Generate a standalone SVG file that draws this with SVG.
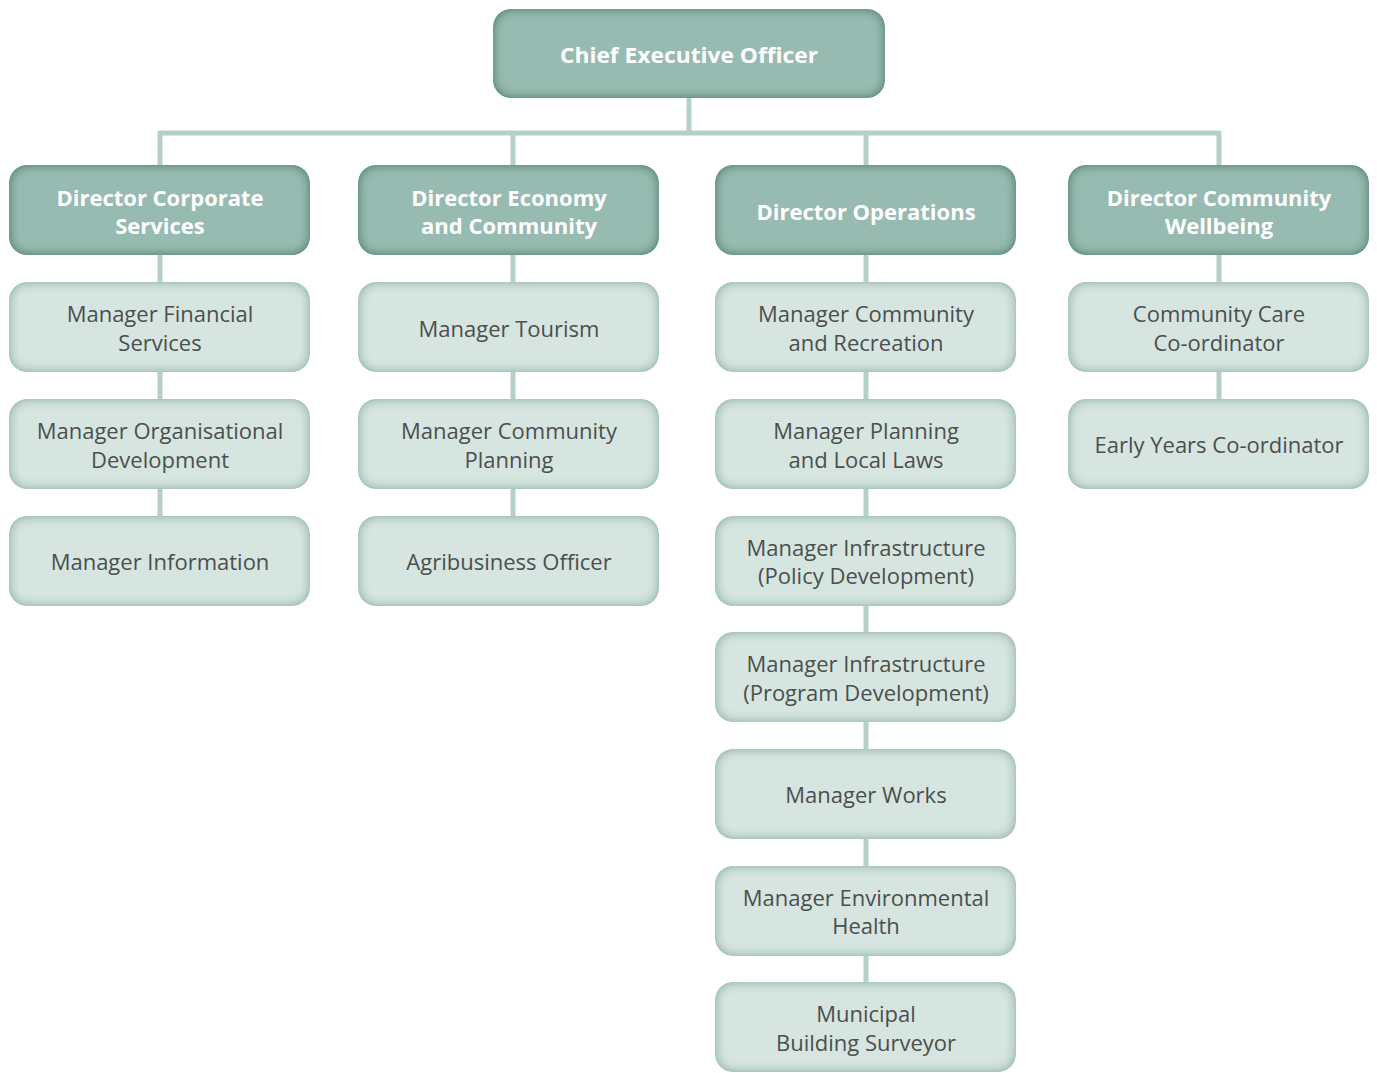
<svg xmlns="http://www.w3.org/2000/svg" width="1377" height="1073" viewBox="0 0 1377 1073">
<defs>
<filter id="bevelD" x="-5%" y="-10%" width="110%" height="120%">
<feGaussianBlur in="SourceAlpha" stdDeviation="6" result="b"/>
<feComposite in="SourceAlpha" in2="b" operator="arithmetic" k2="1.6" k3="-1.6" result="edge"/>
<feFlood flood-color="#5f8c7f" flood-opacity="1"/>
<feComposite in2="edge" operator="in" result="shade"/>
<feMerge><feMergeNode in="SourceGraphic"/><feMergeNode in="shade"/></feMerge>
</filter>
<filter id="bevelM" x="-5%" y="-10%" width="110%" height="120%">
<feGaussianBlur in="SourceAlpha" stdDeviation="6" result="b"/>
<feComposite in="SourceAlpha" in2="b" operator="arithmetic" k2="1.6" k3="-1.6" result="edge"/>
<feFlood flood-color="#9dbdb3" flood-opacity="1"/>
<feComposite in2="edge" operator="in" result="shade"/>
<feMerge><feMergeNode in="SourceGraphic"/><feMergeNode in="shade"/></feMerge>
</filter>
</defs>
<style>
.d rect{fill:#98bbb1;filter:url(#bevelD)}
.m rect{fill:#d6e5e0;filter:url(#bevelM)}
.d text{font-family:"Open Sans","Noto Sans",sans-serif;font-weight:bold;font-size:22px;fill:#ffffff;text-anchor:middle;dominant-baseline:central}
.m text{font-family:"Open Sans","Noto Sans",sans-serif;font-size:22px;fill:#4b4f4e;text-anchor:middle;dominant-baseline:central}
.c line{stroke:#b6d0c7;stroke-width:5}
</style>
<g class="c" id="connectors">
<line x1="689" y1="95" x2="689" y2="134"/>
<line x1="159" y1="133" x2="1219" y2="133"/>
<line x1="160" y1="131" x2="160" y2="590"/>
<line x1="513" y1="131" x2="513" y2="590"/>
<line x1="866" y1="131" x2="866" y2="1060"/>
<line x1="1219" y1="131" x2="1219" y2="470"/>
</g>
<g class="d" id="ceo"><rect x="493" y="9" width="392" height="89" rx="18"/><text x="689" y="54" textLength="258" lengthAdjust="spacingAndGlyphs">Chief Executive Officer</text></g>
<g class="d" id="dir-corporate"><rect x="9" y="165" width="301" height="90" rx="18"/><text x="160" y="197">Director Corporate</text><text x="160" y="225">Services</text></g>
<g class="d" id="dir-economy"><rect x="358" y="165" width="301" height="90" rx="18"/><text x="509" y="197">Director Economy</text><text x="509" y="225">and Community</text></g>
<g class="d" id="dir-operations"><rect x="715" y="165" width="301" height="90" rx="18"/><text x="866" y="211">Director Operations</text></g>
<g class="d" id="dir-wellbeing"><rect x="1068" y="165" width="301" height="90" rx="18"/><text x="1219" y="197">Director Community</text><text x="1219" y="225">Wellbeing</text></g>

<g class="m" id="m-financial"><rect x="9" y="282" width="301" height="90" rx="18"/><text x="160" y="313">Manager Financial</text><text x="160" y="342">Services</text></g>
<g class="m" id="m-orgdev"><rect x="9" y="399" width="301" height="90" rx="18"/><text x="160" y="430">Manager Organisational</text><text x="160" y="459">Development</text></g>
<g class="m" id="m-information"><rect x="9" y="516" width="301" height="90" rx="18"/><text x="160" y="561">Manager Information</text></g>

<g class="m" id="m-tourism"><rect x="358" y="282" width="301" height="90" rx="18"/><text x="509" y="328">Manager Tourism</text></g>
<g class="m" id="m-complanning"><rect x="358" y="399" width="301" height="90" rx="18"/><text x="509" y="430">Manager Community</text><text x="509" y="459">Planning</text></g>
<g class="m" id="agribusiness"><rect x="358" y="516" width="301" height="90" rx="18"/><text x="509" y="561">Agribusiness Officer</text></g>

<g class="m" id="m-comrec"><rect x="715" y="282" width="301" height="90" rx="18"/><text x="866" y="313">Manager Community</text><text x="866" y="342">and Recreation</text></g>
<g class="m" id="m-planlaws"><rect x="715" y="399" width="301" height="90" rx="18"/><text x="866" y="430">Manager Planning</text><text x="866" y="459">and Local Laws</text></g>
<g class="m" id="m-infpolicy"><rect x="715" y="516" width="301" height="90" rx="18"/><text x="866" y="547">Manager Infrastructure</text><text x="866" y="575">(Policy Development)</text></g>
<g class="m" id="m-infprogram"><rect x="715" y="632" width="301" height="90" rx="18"/><text x="866" y="663">Manager Infrastructure</text><text x="866" y="692">(Program Development)</text></g>
<g class="m" id="m-works"><rect x="715" y="749" width="301" height="90" rx="18"/><text x="866" y="794">Manager Works</text></g>
<g class="m" id="m-envhealth"><rect x="715" y="866" width="301" height="90" rx="18"/><text x="866" y="897">Manager Environmental</text><text x="866" y="925">Health</text></g>
<g class="m" id="m-building"><rect x="715" y="982" width="301" height="90" rx="18"/><text x="866" y="1013">Municipal</text><text x="866" y="1042">Building Surveyor</text></g>

<g class="m" id="communitycare"><rect x="1068" y="282" width="301" height="90" rx="18"/><text x="1219" y="313">Community Care</text><text x="1219" y="342">Co-ordinator</text></g>
<g class="m" id="earlyyears"><rect x="1068" y="399" width="301" height="90" rx="18"/><text x="1219" y="444">Early Years Co-ordinator</text></g>
</svg>
